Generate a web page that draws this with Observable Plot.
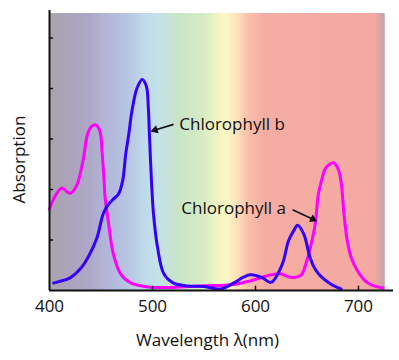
<!DOCTYPE html>
<html><head><meta charset="utf-8">
<script src="https://cdn.jsdelivr.net/npm/d3@7"></script>
<script src="https://cdn.jsdelivr.net/npm/@observablehq/plot@0.6"></script>
<style>body{margin:0;background:#fff}</style>
</head><body><div id="chart"></div>
<script>
// Chlorophyll a (magenta)
const chlANm  = [400,405,412,418,421,425,428,433,437,441,445,449,451,453,454,457,462,469,479,495,520,547,579,595,611,624,634,644,650,655,658,661,664,668,672,676,680,683,686,689,693,699,707,715,724];
const chlAVal = [1.61,1.85,2.03,1.94,1.93,2.03,2.17,2.62,3.10,3.25,3.28,3.15,2.76,2.17,1.83,1.38,0.72,0.33,0.15,0.07,0.06,0.09,0.12,0.19,0.29,0.33,0.26,0.30,0.60,1.00,1.32,1.90,2.17,2.42,2.50,2.53,2.42,2.17,1.50,1.00,0.65,0.39,0.18,0.09,0.05];
// Chlorophyll b (blue)
const chlBNm  = [404,410,420,430,438,446,452,456,462,467,471,474,477,480,485,490,494,496,497,499,501,505,511,520,534,550,566,579,588,595,606,615,626,632,637,641,647,653,658,663,673,683];
const chlBVal = [0.15,0.18,0.25,0.43,0.68,1.04,1.51,1.67,1.81,1.91,2.17,2.70,3.10,3.55,4.01,4.18,4.05,3.60,3.10,2.17,1.51,0.84,0.33,0.15,0.09,0.08,0.03,0.15,0.26,0.31,0.26,0.16,0.52,0.98,1.18,1.29,1.11,0.65,0.42,0.29,0.13,0.03];

const xTicks = [400, 500, 600, 700];
const yTicks = [1, 2, 3, 4, 5];
const xDomain = [400, 734];
const yDomain = [0, 5.545];

const labelNames = ["Chlorophyll b", "Chlorophyll a"];
const labelNm    = [526, 528];
const labelVal   = [3.29, 1.62];
const arrowFromNm  = [520.5, 636];
const arrowFromVal = [3.29, 1.60];
const arrowToNm    = [498, 660];
const arrowToVal   = [3.15, 1.37];

const spectrumNm    = [400, 420, 440, 460, 478, 495, 505, 525, 550, 565, 572, 583, 595, 610, 700, 716, 726];
const spectrumColor = ["#a9a5ad","#aba3bb","#aea8c8","#b3b9dc","#b8c6e2","#c0dcea","#c2e2e8","#c8e4c8","#d8ecc4","#f2f6c4","#fbf8c4","#fde0b8","#f8bcaa","#f4aca2","#f4aaa2","#f4a6a2","#c0a4a8"];
const spectrumTop = 5.485;

const W = 399, H = 360, ML = 49, MR = 6, MT = 10, MB = 70;
const kx = (W - ML - MR) / (xDomain[1] - xDomain[0]);
const ky = (H - MT - MB) / (yDomain[1] - yDomain[0]);
const headR = 3.1;
const headHalf = Math.sqrt(Math.PI * headR * headR / (3 * Math.sqrt(3)));

const dataA = chlANm.map((x, i) => ({x, y: chlAVal[i]}));
const dataB = chlBNm.map((x, i) => ({x, y: chlBVal[i]}));
const labels = labelNames.map((t, i) => ({t, x: labelNm[i], y: labelVal[i]}));
const arrows = arrowFromNm.map((x1, i) => {
  const x2 = arrowToNm[i], y2 = arrowToVal[i], y1 = arrowFromVal[i];
  const dxp = (x2 - x1) * kx, dyp = -(y2 - y1) * ky;
  const len = Math.hypot(dxp, dyp), ux = dxp / len, uy = dyp / len;
  const back = 2 * headHalf;
  return {
    x1, y1,
    hx: x2 - ux * back / kx, hy: y2 + uy * back / ky,
    angle: Math.atan2(dxp, -dyp) * 180 / Math.PI
  };
});
const bg = [{x1: spectrumNm[0], x2: spectrumNm[spectrumNm.length - 1], y1: 0, y2: spectrumTop}];

const plot = Plot.plot({
  width: W, height: H,
  marginLeft: ML, marginRight: MR, marginTop: MT, marginBottom: MB,
  style: {fontFamily: "'Open Sans', sans-serif", fontSize: "17px", background: "white", color: "#111"},
  x: {domain: xDomain, ticks: xTicks, tickSize: 0, tickPadding: 9, label: null},
  y: {domain: yDomain, axis: null},
  marks: [
    Plot.rect(bg, {x1: "x1", x2: "x2", y1: "y1", y2: "y2", fill: "url(#spectrum)"}),
    Plot.line(dataA, {x: "x", y: "y", stroke: "#ff00ff", strokeWidth: 3, curve: "catmull-rom"}),
    Plot.line(dataB, {x: "x", y: "y", stroke: "#3300ff", strokeWidth: 3, curve: "catmull-rom"}),
    Plot.ruleX(xTicks.slice(1), {y1: 0, y2: 0.085, stroke: "#111", strokeWidth: 1.5}),
    Plot.ruleY(yTicks, {x1: xDomain[0], x2: xDomain[0] + 4, stroke: "#111", strokeWidth: 1.5}),
    Plot.ruleY([0], {x1: xDomain[0], x2: xDomain[1], stroke: "#111", strokeWidth: 2}),
    Plot.ruleX([xDomain[0]], {y1: yDomain[0], y2: yDomain[1], stroke: "#111", strokeWidth: 2}),
    Plot.link(arrows, {x1: "x1", y1: "y1", x2: "hx", y2: "hy", stroke: "#111", strokeWidth: 1.6}),
    Plot.dot(arrows, {x: "hx", y: "hy", symbol: "triangle", r: headR, rotate: "angle", fill: "#111", stroke: "none"}),
    Plot.text(labels, {x: "x", y: "y", text: "t", textAnchor: "start", fill: "#111", fontSize: 17}),
    Plot.text(["Absorption"], {text: d => d, frameAnchor: "left", rotate: -90, dx: -30, dy: 53, fontSize: 17, fill: "#111"}),
    Plot.text(["Wavelength λ(nm)"], {text: d => d, frameAnchor: "bottom", dx: -14, dy: 55, fontSize: 17, fill: "#111"})
  ]
});

// spectrum gradient definition
const ns = "http://www.w3.org/2000/svg";
const defs = document.createElementNS(ns, "defs");
const grad = document.createElementNS(ns, "linearGradient");
grad.setAttribute("id", "spectrum");
grad.setAttribute("x1", "0"); grad.setAttribute("x2", "1");
grad.setAttribute("y1", "0"); grad.setAttribute("y2", "0");
const span = spectrumNm[spectrumNm.length - 1] - spectrumNm[0];
spectrumNm.forEach((nm, i) => {
  const s = document.createElementNS(ns, "stop");
  s.setAttribute("offset", ((nm - spectrumNm[0]) / span).toFixed(4));
  s.setAttribute("stop-color", spectrumColor[i]);
  grad.appendChild(s);
});
defs.appendChild(grad);
plot.insertBefore(defs, plot.firstChild);
document.getElementById("chart").appendChild(plot);
</script>
</body></html>
